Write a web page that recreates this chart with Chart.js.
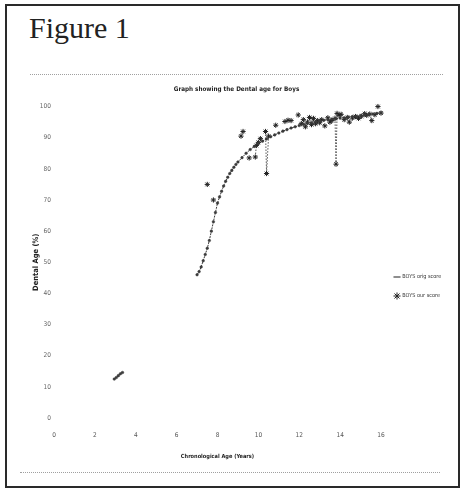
<!DOCTYPE html>
<html>
<head>
<meta charset="utf-8">
<script src="https://cdn.jsdelivr.net/npm/chart.js@4.4.1/dist/chart.umd.min.js"></script>
<style>
  html, body { margin: 0; padding: 0; background: #fff; }
  body { width: 463px; height: 493px; position: relative; overflow: hidden; }
  #frame { position: absolute; left: 5px; top: 4px; width: 451px; height: 480px; border: 2px solid #2a2a2a; }
  #fig { position: absolute; left: 29px; top: 13px; line-height: 30px; font-size: 30px;
         font-family: "Liberation Serif", "Times New Roman", serif; color: #222; }
  .dots { position: absolute; height: 0; border-top: 1px dotted #a0a0a0; }
  #wrap { position: absolute; left: 30px; top: 76px; width: 413px; height: 394px; }
</style>
</head>
<body>
<div id="frame"></div>
<div id="fig">Figure 1</div>
<div class="dots" style="left:30px; top:74px; width:413px;"></div>
<div class="dots" style="left:20px; top:472px; width:420px;"></div>
<div id="wrap"><canvas id="chart"></canvas></div>

<script>
// ------------------------------------------------------
// data
// ------------------------------------------------------
const origX = [2.95, 3.05, 3.15, 3.25, 3.35, 5.0,
  7.0, 7.1, 7.2, 7.3, 7.4, 7.5, 7.6, 7.7, 7.8, 7.9, 8.0, 8.1, 8.2, 8.3, 8.4, 8.5, 8.6, 8.7, 8.8, 8.9,
  9.0, 9.2, 9.4, 9.6, 9.8, 10.0, 10.2, 10.4, 10.6, 10.8, 11.0, 11.2, 11.4, 11.6, 11.8,
  12.0, 12.2, 12.4, 12.6, 12.8, 13.0, 13.2, 13.4, 13.6, 13.8, 14.0, 14.2, 14.4, 14.6, 14.8,
  15.0, 15.2, 15.4, 15.6, 15.8, 16.0, 16.2];
const origY = [12.5, 13.0, 13.6, 14.2, 14.6, null,
  46.0, 47.0, 48.5, 50.5, 52.5, 54.5, 57.0, 60.0, 63.0, 66.0, 69.0, 71.0, 72.8, 74.5, 76.0, 77.3, 78.5, 79.5, 80.5, 81.4,
  82.2, 83.6, 85.0, 86.2, 87.2, 88.1, 88.9, 89.6, 90.3, 90.9, 91.5, 92.1, 92.6, 93.1, 93.5,
  93.9, 94.3, 94.6, 94.9, 95.2, 95.4, 95.6, 95.8, 96.0, 96.1, 96.3, 96.4, 96.6, 96.8, 96.9,
  97.1, 97.3, 97.4, 97.6, 97.8, 98.0, 98.2];

const ourX = [7.5, 7.8, 9.15, 9.25, 9.55, 9.85, 9.9, 10.0, 10.1, 10.35, 10.4, 10.5, 10.85,
  11.3, 11.45, 11.6, 11.95, 12.1, 12.2, 12.3, 12.4, 12.5, 12.6, 12.7, 12.8, 12.9, 13.0, 13.1,
  13.25, 13.4, 13.5, 13.6, 13.75, 13.8, 13.85, 13.95, 14.05, 14.2, 14.35, 14.45, 14.6, 14.75,
  14.9, 15.05, 15.2, 15.3, 15.45, 15.55, 15.7, 15.85, 16.0, 16.1];
const ourY = [75.0, 70.0, 90.5, 92.0, 83.5, 83.8, 87.5, 88.5, 89.7, 92.0, 78.5, 90.5, 94.0,
  95.2, 95.6, 95.5, 97.3, 94.5, 95.8, 93.5, 95.0, 96.5, 94.2, 96.2, 94.5, 95.5, 94.8, 95.8,
  93.8, 96.4, 95.0, 95.5, 96.2, 81.5, 97.8, 97.2, 97.5, 95.8, 96.5, 95.0, 96.3, 96.8,
  96.2, 96.9, 97.7, 97.2, 97.6, 95.5, 97.4, 100.0, 97.9, 98.2];

const seriesNames = ['BOYS orig score', 'BOYS our score'];
const chartTitle = 'Graph showing the Dental age for Boys';
const xTitle = 'Chronological Age (Years)';
const yTitle = 'Dental Age (%)';

// ------------------------------------------------------
Chart.defaults.font.family = '"Liberation Sans Narrow", "DejaVu Sans Condensed", "Liberation Sans", sans-serif';

const toPts = (xs, ys) => xs.map((x, i) => ({ x: x, y: ys[i] }));

new Chart(document.getElementById('chart'), {
  type: 'scatter',
  data: {
    datasets: [
      {
        label: seriesNames[0],
        data: toPts(origX, origY),
        showLine: true,
        spanGaps: false,
        borderColor: '#3a3a3a',
        backgroundColor: '#3a3a3a',
        borderWidth: 1,
        borderDash: [2, 1],
        pointStyle: 'circle',
        pointRadius: 1.3,
        pointBorderWidth: 0.5,
        clip: false
      },
      {
        label: seriesNames[1],
        data: toPts(ourX, ourY),
        showLine: true,
        borderColor: '#444',
        backgroundColor: '#1c1c1c',
        borderWidth: 1,
        borderDash: [1.5, 1.5],
        segment: {
          // only the near-vertical joins show in the scan
          borderColor: c => Math.abs(c.p1.parsed.x - c.p0.parsed.x) < 0.12 ? '#555' : 'transparent'
        },
        pointStyle: 'star',
        pointRadius: 2.6,
        pointBorderColor: '#222',
        pointBorderWidth: 1,
        clip: false
      }
    ]
  },
  options: {
    responsive: true,
    maintainAspectRatio: false,
    animation: false,
    layout: { padding: 0 },
    plugins: {
      title: {
        display: true,
        text: chartTitle,
        color: '#222',
        font: { size: 6.3, weight: 'bold' },
        padding: { top: 10, bottom: 13 }
      },
      legend: {
        position: 'right',
        maxWidth: 62,
        title: { display: true, text: '', font: { size: 5 }, padding: { top: 10.5, bottom: 10.5 } },
        labels: {
          usePointStyle: true,
          boxWidth: 5,
          boxHeight: 5,
          padding: 13.5,
          color: '#333',
          font: { size: 5.5 },
          generateLabels: chart => {
            const items = Chart.defaults.plugins.legend.labels.generateLabels(chart);
            // orig series shows as a short line in the key
            items[0].pointStyle = 'line';
            items[0].lineWidth = 1.2;
            items[0].strokeStyle = '#444';
            return items;
          }
        }
      },
      tooltip: { enabled: false }
    },
    scales: {
      x: {
        type: 'linear',
        min: 0,
        max: 16,
        afterFit: s => { s.height = 52; },
        ticks: { stepSize: 2, color: '#555', font: { size: 6.5 }, padding: 13, maxRotation: 0, autoSkip: false },
        grid: { display: false, drawTicks: false },
        border: { display: false },
        title: { display: true, text: xTitle, color: '#222', font: { size: 5.6, weight: 'bold' }, padding: { top: 0, bottom: 10 } }
      },
      y: {
        min: 0,
        max: 100,
        afterFit: s => { s.width = 24; },
        ticks: { stepSize: 10, color: '#666', font: { size: 6.5 }, padding: 3 },
        grid: { display: false, drawTicks: false },
        border: { display: false },
        title: { display: true, text: yTitle, color: '#222', font: { size: 7.5, weight: 'bold' }, padding: { top: 2, bottom: 0 } }
      }
    }
  }
});
</script>
</body>
</html>
